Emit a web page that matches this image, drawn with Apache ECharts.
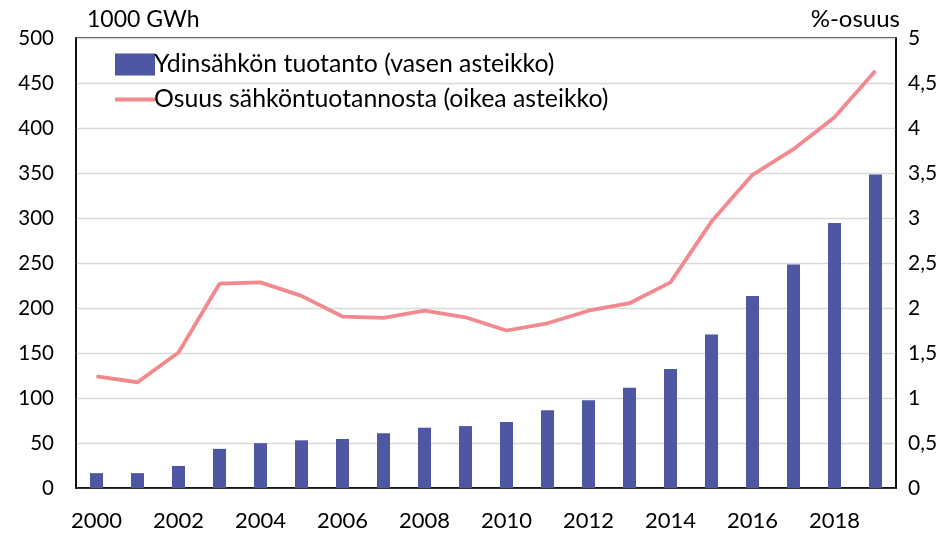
<!DOCTYPE html>
<html><head><meta charset="utf-8">
<script src="https://cdn.jsdelivr.net/npm/echarts@6/dist/echarts.min.js"></script>
<style>html,body{margin:0;padding:0;background:#fff}#c{width:946px;height:535px}</style>
</head><body><div id="c"></div>
<script>
const years = ['2000','2001','2002','2003','2004','2005','2006','2007','2008','2009','2010','2011','2012','2013','2014','2015','2016','2017','2018','2019'];
const production = [16.5,16.5,24.5,43.5,49.8,53,54.5,60.8,67,68.8,73.3,86.3,97.4,111.5,132.3,170.5,213.3,248.2,294.4,348.2];
const share = [1.24,1.175,1.505,2.27,2.285,2.135,1.905,1.89,1.97,1.897,1.75,1.83,1.97,2.053,2.285,2.96,3.48,3.765,4.12,4.635];
const leftTicks = [0,50,100,150,200,250,300,350,400,450,500];
const rightTicks = ['0','0,5','1','1,5','2','2,5','3','3,5','4','4,5','5'];
const seriesNames = ['Ydinsähkön tuotanto (vasen asteikko)','Osuus sähköntuotannosta (oikea asteikko)'];
const font = 'Lato, "Open Sans", sans-serif';
const chart = echarts.init(document.getElementById('c'));
chart.setOption({
  animation:false,
  textStyle:{fontFamily:font},
  grid:{left:76,right:50,top:38,bottom:47,show:true,borderColor:'#000',borderWidth:1.5,backgroundColor:'transparent'},
  legend:{
    left:110, top:47, orient:'vertical', itemGap:10, itemWidth:40, itemHeight:22,
    textStyle:{fontSize:24.8,color:'#000',fontFamily:font,padding:[0,0,0,-6]},
    data:[{name:seriesNames[0],icon:'rect'},{name:seriesNames[1],icon:'path://M0,9 L40,9 L40,13 L0,13 Z'}]
  },
  xAxis:{
    type:'category', data:years,
    axisLine:{lineStyle:{color:'#000',width:1.5}}, axisTick:{show:false},
    axisLabel:{interval:1,fontSize:22,color:'#000',margin:22}
  },
  yAxis:[{
    type:'value', min:0, max:500, interval:50,
    name:'1000 GWh', nameLocation:'end', nameGap:7,
    nameTextStyle:{fontSize:23,color:'#000',align:'left',padding:[0,0,0,11]},
    axisLine:{show:true,lineStyle:{color:'#000',width:1.5}}, axisTick:{show:false},
    axisLabel:{fontSize:20.5,color:'#000',margin:22,formatter:v=>leftTicks.includes(v)?String(v):''},
    splitLine:{lineStyle:{color:'#d9d9d9',width:1.3}}
  },{
    type:'value', min:0, max:5, interval:0.5, position:'right',
    name:'%-osuus', nameLocation:'end', nameGap:7,
    nameTextStyle:{fontSize:24,color:'#000',align:'right',padding:[0,-4,0,0]},
    axisLine:{show:true,lineStyle:{color:'#000',width:1.5}}, axisTick:{show:false},
    axisLabel:{fontSize:21,color:'#000',margin:12,formatter:v=>rightTicks[Math.round(v*2)]},
    splitLine:{show:false}
  }],
  series:[{
    name:seriesNames[0], type:'bar', data:production, barWidth:13,
    itemStyle:{color:'#4f56a4'}
  },{
    name:seriesNames[1], type:'line', yAxisIndex:1, data:share,
    symbol:'none', lineStyle:{color:'#f2898e',width:3.8}, itemStyle:{color:'#f2898e'}
  }]
});
</script></body></html>
